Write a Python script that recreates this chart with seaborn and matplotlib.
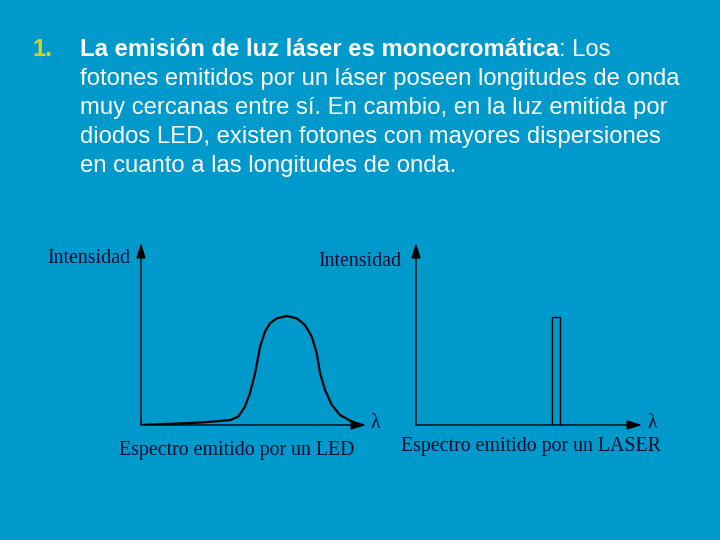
import matplotlib
matplotlib.use("Agg")
import matplotlib.pyplot as plt
import seaborn as sns
import pandas as pd

BG_COLOR = "#0099cc"
INK = "#0a0a30"
NUM_COLOR = "#dcd21e"

# texto del párrafo
bullet = "1."
bold_part = "La emisión de luz láser es monocromática"
first_rest = ": Los"
para_lines = [
    "fotones emitidos por un láser poseen longitudes de onda",
    "muy cercanas entre sí. En cambio, en la luz emitida por",
    "diodos LED, existen fotones con mayores dispersiones",
    "en cuanto a las longitudes de onda.",
]

# espectro LED (unidades arbitrarias 0-100)
led_lambda = [0, 10, 20, 28, 35.1, 39.6, 43.2, 46.2, 48.4, 50.7, 52.9, 55.1, 57.3, 60.3,
              64.8, 69.2, 72.9, 75.9, 78.1, 79.6, 81.8, 84.8, 88.4, 92.9, 96.6]
led_intensity = [0, 0.5, 1.0, 1.5, 2.2, 2.7, 4.6, 10.1, 17.4, 28.4, 43.0, 51.3, 55.9, 58.6,
                 59.9, 58.6, 54.9, 48.5, 39.4, 28.4, 19.2, 11.0, 5.5, 2.4, 0.5]

# espectro LASER
laser_lambda = [62.1]
laser_intensity = [59.5]

y_label = "Intensidad"
x_symbol = "λ"
captions = ["Espectro emitido por un LED", "Espectro emitido por un LASER"]

W, H = 720, 540


def px(x, y):
    return x / W, 1 - y / H


fig = plt.figure(figsize=(7.2, 5.4), dpi=100, facecolor=BG_COLOR)

# --- párrafo superior ---
sans = ["Liberation Sans", "DejaVu Sans"]
serif = ["Liberation Serif", "DejaVu Serif"]
fs = 17.2
line_gap = 29

fig.text(*px(32, 50), bullet, color=NUM_COLOR, fontsize=fs, family=sans, weight="bold",
         va="center")
t_bold = fig.text(*px(80, 50), bold_part, color="white", fontsize=fs, family=sans,
                  weight="bold", va="center")
renderer = fig.canvas.get_renderer()
bb = t_bold.get_window_extent(renderer)
fig.text(bb.x1 / W, 1 - 50 / H, first_rest, color="white", fontsize=fs, family=sans,
         va="center")
for i, line in enumerate(para_lines):
    fig.text(*px(80, 50 + line_gap * (i + 1)), line, color="white", fontsize=fs,
             family=sans, va="center")

# --- ejes de los dos espectros ---
axes_px = [(141, 366), (416, 642)]
top_px, bottom_px = 243, 425
axes = []
for x0, x1 in axes_px:
    l, b = px(x0, bottom_px)
    ax = fig.add_axes([l, b, (x1 - x0) / W, (bottom_px - top_px) / H])
    ax.set_xlim(0, 100)
    ax.set_ylim(0, 100)
    ax.set_axis_off()
    ax.patch.set_alpha(0)
    arrow = dict(arrowstyle="-|>,head_length=0.9,head_width=0.28", color="black",
                 lw=1.0, shrinkA=0, shrinkB=0)
    ax.annotate("", xy=(0, 1), xytext=(0, 0), xycoords="axes fraction",
                arrowprops=arrow, annotation_clip=False)
    ax.annotate("", xy=(1, 0), xytext=(0, 0), xycoords="axes fraction",
                arrowprops=arrow, annotation_clip=False)
    axes.append(ax)

led_df = pd.DataFrame({"lambda": led_lambda, "intensidad": led_intensity})
sns.lineplot(data=led_df, x="lambda", y="intensidad", ax=axes[0], color="black",
             linewidth=1.6, estimator=None, sort=False)
axes[0].set_axis_off()

axes[1].bar(laser_lambda, laser_intensity, width=3.6, fill=False, edgecolor="black",
            linewidth=1.0)

# etiquetas
lab_fs = 14.3
fig.text(*px(130, 258), y_label, color=INK, fontsize=lab_fs, family=serif, ha="right",
         va="center")
fig.text(*px(318, 261), y_label, color=INK, fontsize=lab_fs, family=serif, ha="left",
         va="center")
fig.text(*px(371, 424), x_symbol, color=INK, fontsize=lab_fs, family=serif, va="center")
fig.text(*px(647, 424), x_symbol, color=INK, fontsize=lab_fs, family=serif, va="center")
fig.text(*px(237, 450), captions[0], color=INK, fontsize=lab_fs, family=serif,
         ha="center", va="center")
fig.text(*px(531, 447), captions[1], color=INK, fontsize=lab_fs, family=serif,
         ha="center", va="center")

fig.savefig("out.png", dpi=100, facecolor=BG_COLOR)
